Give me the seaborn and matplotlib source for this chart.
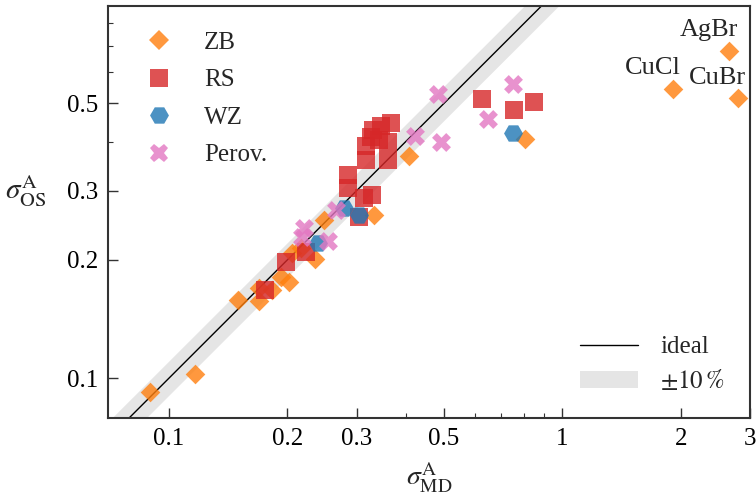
import numpy as np
import pandas as pd
import matplotlib
matplotlib.use("Agg")
import matplotlib.pyplot as plt
import seaborn as sns
from matplotlib.lines import Line2D
from matplotlib.patches import Patch
from matplotlib.ticker import FixedLocator, FixedFormatter, NullFormatter

# ---------------- data ----------------
zb_md = [0.0896, 0.1165, 0.150, 0.1695, 0.169, 0.183, 0.1925, 0.202, 0.206, 0.2165,
         0.235, 0.248, 0.333, 0.408, 0.806, 1.906, 2.647, 2.79]
zb_os = [0.092, 0.1027, 0.158, 0.157, 0.170, 0.168, 0.181, 0.176, 0.208, 0.214,
         0.201, 0.253, 0.260, 0.368, 0.406, 0.544, 0.680, 0.516]

rs_md = [0.1756, 0.198, 0.223, 0.305, 0.314, 0.328, 0.2845, 0.2845, 0.317, 0.360,
         0.317, 0.326, 0.360, 0.331, 0.346, 0.367, 0.3425, 0.624, 0.753, 0.847]
rs_os = [0.168, 0.198, 0.210, 0.257, 0.288, 0.293, 0.304, 0.329, 0.359, 0.359,
         0.389, 0.412, 0.400, 0.428, 0.437, 0.446, 0.404, 0.514, 0.482, 0.503]

wz_md = [0.2386, 0.279, 0.305, 0.748]
wz_os = [0.2206, 0.271, 0.2596, 0.420]

pv_md = [0.2207, 0.2185, 0.253, 0.266, 0.421, 0.484, 0.748, 0.646, 0.492]
pv_os = [0.2408, 0.229, 0.223, 0.268, 0.414, 0.527, 0.561, 0.457, 0.398]

labels_named = ["AgBr", "CuCl", "CuBr"]
named_md = [2.647, 1.906, 2.79]
named_os = [0.680, 0.544, 0.516]

x_ticks = [0.1, 0.2, 0.3, 0.5, 1, 2, 3]
x_ticklabels = ["0.1", "0.2", "0.3", "0.5", "1", "2", "3"]
y_ticks = [0.1, 0.2, 0.3, 0.5]
y_ticklabels = ["0.1", "0.2", "0.3", "0.5"]
minor_ticks = [0.4, 0.6, 0.7, 0.8, 0.9]

groups = [
    ("ZB", zb_md, zb_os, "D", "tab:orange", 100),
    ("RS", rs_md, rs_os, "s", "tab:red", 160),
    ("WZ", wz_md, wz_os, "H", "tab:blue", 185),
    ("Perov.", pv_md, pv_os, "X", "tab:pink", 185),
]

# ---------------- style ----------------
sns.set_style("ticks")
plt.rcParams["font.family"] = ["Liberation Serif", "DejaVu Serif"]
plt.rcParams["mathtext.fontset"] = "stix"

fig = plt.figure(figsize=(7.56, 4.97), dpi=100)
ax = fig.add_axes([108 / 756, 1 - 418 / 497, 642 / 756, 412 / 497])
ax.set_xscale("log")
ax.set_yscale("log")
xlim = (0.07, 3.0)
ylim = (0.0792, 0.885)

# ideal line and +-10% band
xx = np.geomspace(0.05, 4, 200)
ax.fill_between(xx, 0.9 * xx, 1.1 * xx, color="#e5e5e5", lw=0, zorder=1)
ax.plot(xx, xx, color="black", lw=1.0, zorder=2)

handles = []
for name, xs, ys, mk, col, size in groups:
    df = pd.DataFrame({"md": xs, "os": ys})
    sns.scatterplot(data=df, x="md", y="os", marker=mk, color=col, s=size,
                    alpha=0.8, linewidth=0, ax=ax, zorder=3)
    handles.append(Line2D([], [], marker=mk, color=col, alpha=0.8, ls="none",
                          markeredgewidth=0, markersize=np.sqrt(size), label=name))

for lab, x, y in zip(labels_named, named_md, named_os):
    ax.annotate(lab, (x, y), xytext=(-14.5, 10.5), textcoords="offset points",
                ha="center", va="baseline", fontsize=19)

ax.set_xlim(*xlim)
ax.set_ylim(*ylim)

leg1 = ax.legend(handles=handles, loc="upper left", frameon=False, fontsize=18,
                 bbox_to_anchor=(0.017, 0.975), handletextpad=0.8, labelspacing=0.6,
                 borderaxespad=0.2)
ax.add_artist(leg1)
h2 = [Line2D([], [], color="black", lw=1.0, label="ideal"),
      Patch(facecolor="#e5e5e5", edgecolor="none", label=r"$\pm10\,\%$")]
ax.legend(handles=h2, loc="lower right", frameon=False, fontsize=18,
          bbox_to_anchor=(0.995, 0.005), handlelength=2.3, handletextpad=0.9,
          labelspacing=0.4)

ax.xaxis.set_major_locator(FixedLocator(x_ticks))
ax.xaxis.set_major_formatter(FixedFormatter(x_ticklabels))
ax.yaxis.set_major_locator(FixedLocator(y_ticks))
ax.yaxis.set_major_formatter(FixedFormatter(y_ticklabels))
ax.xaxis.set_minor_locator(FixedLocator(minor_ticks))
ax.yaxis.set_minor_locator(FixedLocator(minor_ticks))
ax.xaxis.set_minor_formatter(NullFormatter())
ax.yaxis.set_minor_formatter(NullFormatter())

ax.tick_params(which="both", direction="in", top=False, right=False,
               colors="#333333", labelcolor="black", labelsize=18)
ax.tick_params(which="major", length=7, width=1.0, pad=7)
ax.tick_params(which="minor", length=3.5, width=0.8)
for sp in ax.spines.values():
    sp.set_color("#333333")
    sp.set_linewidth(1.5)

ax.set_xlabel(r"$\sigma^{\mathrm{A}}_{\mathrm{MD}}$", fontsize=20, va="center")
ax.set_ylabel(r"$\sigma^{\mathrm{A}}_{\mathrm{OS}}$", fontsize=21, rotation=0,
              ha="center", va="center")
ax.xaxis.set_label_coords(0.5, -0.145)
ax.yaxis.set_label_coords(-0.128, 0.55)

fig.savefig("out.png", dpi=100)
